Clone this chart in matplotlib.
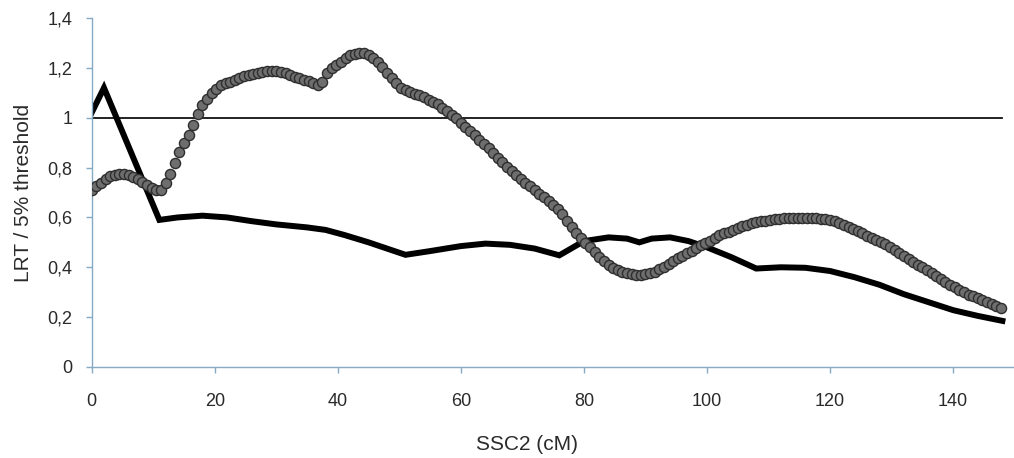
import numpy as np
import matplotlib
matplotlib.use('Agg')
import matplotlib.pyplot as plt

plt.rcParams['font.family'] = ['Liberation Sans', 'DejaVu Sans']

# LRT / threshold, gray series: one value every 0.75 cM from 0 to 147.75
pos_cm = np.arange(0, 148, 0.75)
lrt_gray = [
    0.71, 0.725, 0.74, 0.754, 0.765, 0.772, 0.776, 0.775, 0.77, 0.763,
    0.753, 0.742, 0.73, 0.719, 0.711, 0.712, 0.74, 0.775, 0.82, 0.862,
    0.90, 0.93, 0.97, 1.013, 1.05, 1.077, 1.098, 1.115, 1.13, 1.138,
    1.145, 1.152, 1.16, 1.167, 1.172, 1.176, 1.18, 1.184, 1.187, 1.189,
    1.186, 1.182, 1.178, 1.173, 1.165, 1.158, 1.152, 1.146, 1.138, 1.13,
    1.145, 1.178, 1.20, 1.212, 1.225, 1.24, 1.25, 1.256, 1.259, 1.258,
    1.252, 1.24, 1.225, 1.203, 1.18, 1.16, 1.14, 1.12, 1.11, 1.102,
    1.097, 1.09, 1.083, 1.073, 1.064, 1.054, 1.04, 1.027, 1.012, 0.997,
    0.98, 0.964, 0.946, 0.929, 0.912, 0.895, 0.877, 0.859, 0.84, 0.821,
    0.802, 0.785, 0.77, 0.755, 0.74, 0.725, 0.71, 0.695, 0.68, 0.665,
    0.65, 0.635, 0.612, 0.586, 0.56, 0.537, 0.518, 0.499, 0.48, 0.461,
    0.443, 0.425, 0.41, 0.399, 0.39, 0.383, 0.378, 0.374, 0.371, 0.37,
    0.372, 0.376, 0.383, 0.393, 0.402, 0.414, 0.425, 0.436, 0.447, 0.457,
    0.467, 0.478, 0.488, 0.497, 0.507, 0.519, 0.528, 0.536, 0.543, 0.55,
    0.557, 0.564, 0.57, 0.576, 0.58, 0.584, 0.587, 0.59, 0.592, 0.594,
    0.596, 0.597, 0.598, 0.598, 0.598, 0.598, 0.597, 0.596, 0.595, 0.593,
    0.59, 0.584, 0.577, 0.569, 0.562, 0.553, 0.544, 0.536, 0.527, 0.518,
    0.51, 0.50, 0.492, 0.482, 0.47, 0.458, 0.446, 0.433, 0.421, 0.41,
    0.40, 0.389, 0.376, 0.364, 0.352, 0.341, 0.33, 0.319, 0.308, 0.299,
    0.29, 0.283, 0.275, 0.267, 0.26, 0.252, 0.245, 0.237,
]

# black series
black_cm = [0, 2, 11, 14, 18, 22, 26, 30, 35, 38, 41, 45, 51, 55, 60, 64,
            68, 72, 76, 80, 84, 87, 89, 91, 94, 97, 100, 104, 108, 112,
            116, 120, 124, 128, 132, 136, 140, 144, 148]
lrt_black = [1.02, 1.12, 0.59, 0.60, 0.607, 0.60, 0.585, 0.572, 0.56, 0.55,
             0.53, 0.50, 0.45, 0.465, 0.485, 0.495, 0.49, 0.475, 0.448, 0.505,
             0.52, 0.515, 0.50, 0.515, 0.52, 0.505, 0.48, 0.44, 0.395, 0.40,
             0.398, 0.385, 0.36, 0.33, 0.292, 0.26, 0.228, 0.205, 0.185]

threshold = 1.0
yticks = [0, 0.2, 0.4, 0.6, 0.8, 1.0, 1.2, 1.4]
ytick_labels = ['0', '0,2', '0,4', '0,6', '0,8', '1', '1,2', '1,4']
xticks = [0, 20, 40, 60, 80, 100, 120, 140]

fig = plt.figure(figsize=(10.14, 4.58), dpi=100)
ax = fig.add_axes([0.0904, 0.1987, 0.9103, 0.762])

ax.plot([0, 148], [threshold, threshold], color='#111111', lw=1.3, zorder=1)
ax.plot(black_cm, lrt_black, color='black', lw=4.3, solid_joinstyle='miter',
        zorder=2)
ax.plot(pos_cm, lrt_gray, ls='none', marker='o', ms=7.3, mfc='#6e6e6e',
        mec='#2e2e2e', mew=1.0, zorder=3)

ax.set_xlim(0, 150)
ax.set_ylim(0, 1.4)
ax.set_xticks(xticks)
ax.set_yticks(yticks)
ax.set_yticklabels(ytick_labels)

for side in ['top', 'right']:
    ax.spines[side].set_visible(False)
for side in ['left', 'bottom']:
    ax.spines[side].set_color('#86a9c4')
    ax.spines[side].set_linewidth(1.0)
ax.tick_params(direction='out', length=4, width=1.0, color='#86a9c4',
               labelsize=13, labelcolor='#2a2a2a')
ax.tick_params(axis='x', pad=15)
ax.tick_params(axis='y', pad=10)

ax.set_xlabel('SSC2 (cM)', fontsize=15, color='#2a2a2a', labelpad=18,
              x=0.4716)
ax.set_ylabel('LRT / 5% threshold', fontsize=15, color='#2a2a2a', labelpad=10)

plt.savefig('out.png', dpi=100)
